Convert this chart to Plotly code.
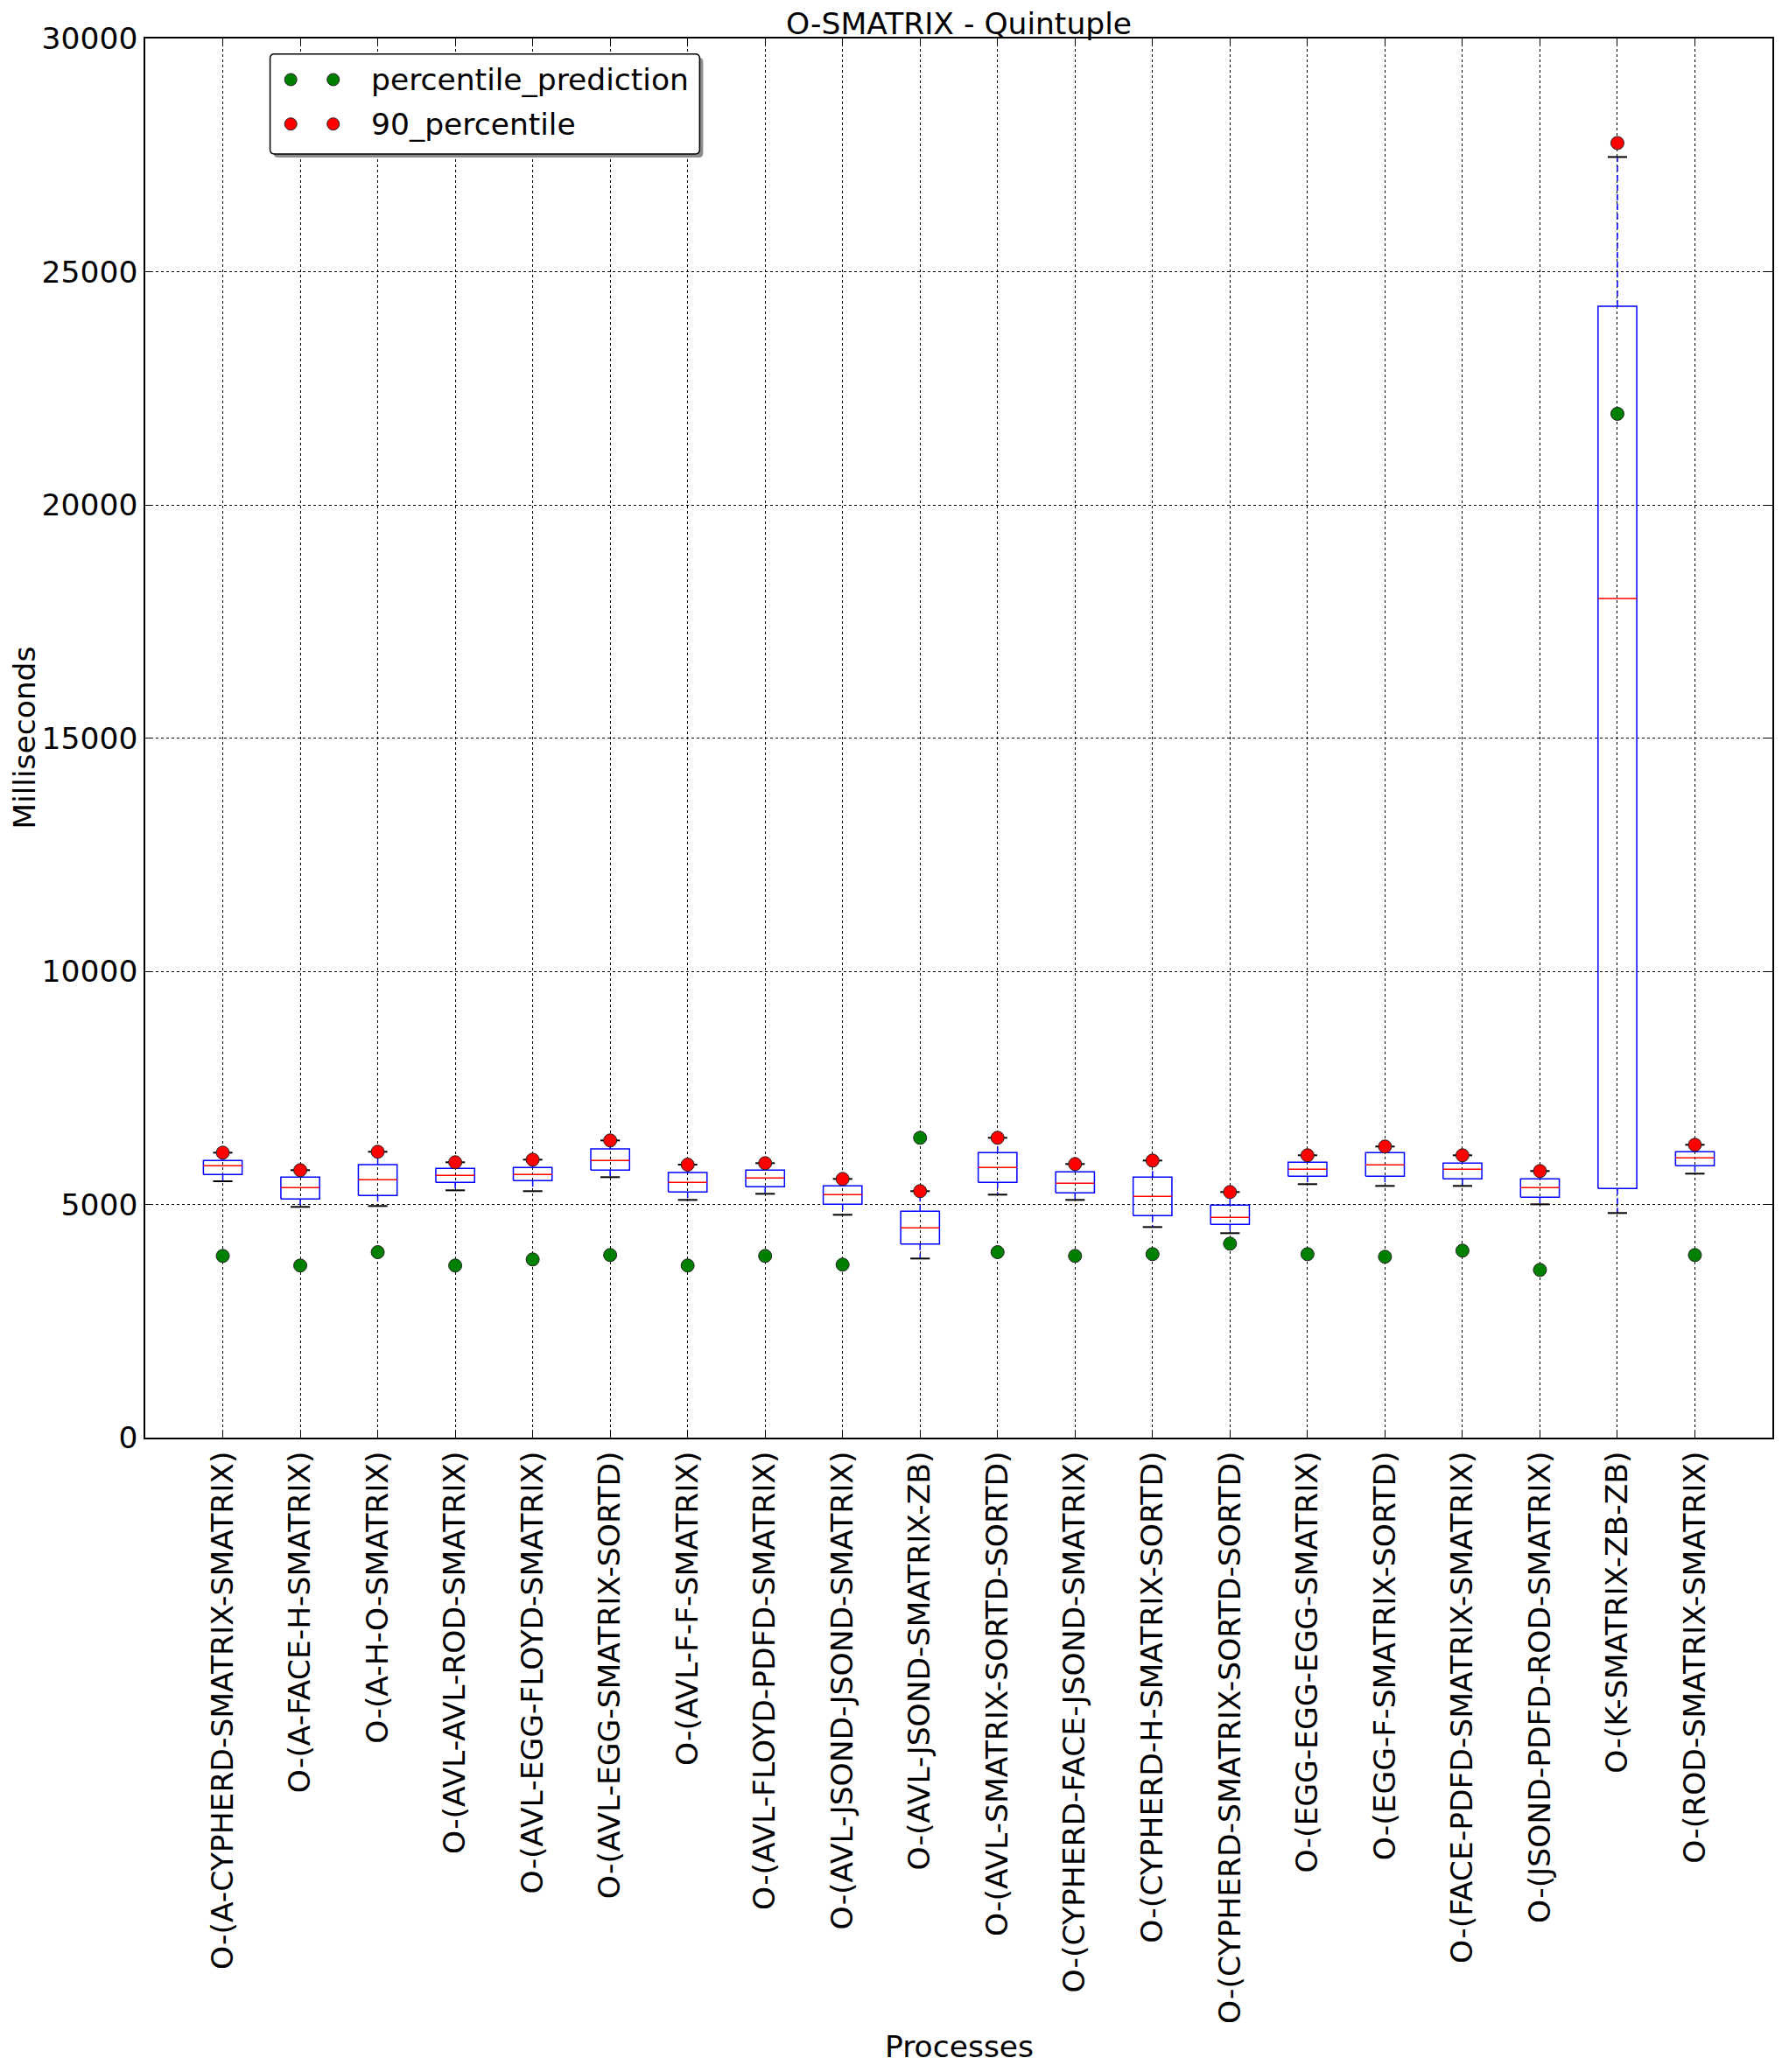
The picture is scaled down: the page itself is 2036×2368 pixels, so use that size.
import plotly.graph_objects as go


processes = [
    "O-(A-CYPHERD-SMATRIX-SMATRIX)",
    "O-(A-FACE-H-SMATRIX)",
    "O-(A-H-O-SMATRIX)",
    "O-(AVL-AVL-ROD-SMATRIX)",
    "O-(AVL-EGG-FLOYD-SMATRIX)",
    "O-(AVL-EGG-SMATRIX-SORTD)",
    "O-(AVL-F-F-SMATRIX)",
    "O-(AVL-FLOYD-PDFD-SMATRIX)",
    "O-(AVL-JSOND-JSOND-SMATRIX)",
    "O-(AVL-JSOND-SMATRIX-ZB)",
    "O-(AVL-SMATRIX-SORTD-SORTD)",
    "O-(CYPHERD-FACE-JSOND-SMATRIX)",
    "O-(CYPHERD-H-SMATRIX-SORTD)",
    "O-(CYPHERD-SMATRIX-SORTD-SORTD)",
    "O-(EGG-EGG-EGG-SMATRIX)",
    "O-(EGG-F-SMATRIX-SORTD)",
    "O-(FACE-PDFD-SMATRIX-SMATRIX)",
    "O-(JSOND-PDFD-ROD-SMATRIX)",
    "O-(K-SMATRIX-ZB-ZB)",
    "O-(ROD-SMATRIX-SMATRIX)",
]

whisker_low = [5497, 4947, 4966, 5303, 5285, 5585, 5097, 5228, 4778, 3840,
               5210, 5097, 4515, 4384, 5435, 5397, 5397, 5003, 4816, 5660]
q1 = [5641, 5116, 5191, 5472, 5510, 5735, 5266, 5378, 5003, 4152,
      5472, 5247, 4759, 4572, 5604, 5604, 5547, 5153, 5341, 5829]
median = [5829, 5360, 5528, 5622, 5641, 5941, 5472, 5566, 5210, 4497,
          5791, 5453, 5172, 4722, 5754, 5847, 5754, 5360, 17991, 5997]
q3 = [5941, 5585, 5853, 5772, 5791, 6191, 5684, 5735, 5397, 4853,
      6110, 5697, 5585, 4984, 5904, 6110, 5885, 5547, 24257, 6129]
whisker_high = [6110, 5735, 6129, 5904, 5960, 6373, 5853, 5885, 5547, 5285,
                6429, 5866, 5941, 5266, 6054, 6242, 6054, 5716, 27459, 6279]

percentile_90 = [6110, 5735, 6129, 5904, 5960, 6373, 5853, 5885, 5547, 5285,
                 6429, 5866, 5941, 5266, 6054, 6242, 6054, 5716, 27759, 6279]
percentile_prediction = [3896, 3690, 3977, 3690, 3821, 3915, 3690, 3896, 3709, 6429,
                         3977, 3896, 3934, 4159, 3934, 3878, 4009, 3596, 21953, 3915]

FONT = "DejaVu Sans"
FS = 34.5

positions = list(range(1, len(processes) + 1))

box_x, box_y = [], []
med_x, med_y = [], []
wh_x, wh_y = [], []
cap_x, cap_y = [], []
for p, lo, a, m, b, hi in zip(positions, whisker_low, q1, median, q3, whisker_high):
    box_x += [p - 0.25, p + 0.25, p + 0.25, p - 0.25, p - 0.25, None]
    box_y += [a, a, b, b, a, None]
    med_x += [p - 0.25, p + 0.25, None]
    med_y += [m, m, None]
    wh_x += [p, p, None, p, p, None]
    wh_y += [a, lo, None, b, hi, None]
    cap_x += [p - 0.125, p + 0.125, None, p - 0.125, p + 0.125, None]
    cap_y += [lo, lo, None, hi, hi, None]

fig = go.Figure()
fig.add_trace(go.Scatter(x=wh_x, y=wh_y, mode="lines",
                         line=dict(color="blue", width=1.5, dash="7px,4px"), hoverinfo="skip"))
fig.add_trace(go.Scatter(x=box_x, y=box_y, mode="lines",
                         line=dict(color="blue", width=1.5), hoverinfo="skip"))
fig.add_trace(go.Scatter(x=med_x, y=med_y, mode="lines",
                         line=dict(color="red", width=1.5), hoverinfo="skip"))
fig.add_trace(go.Scatter(x=cap_x, y=cap_y, mode="lines",
                         line=dict(color="black", width=2), hoverinfo="skip"))
fig.add_trace(go.Scatter(x=positions, y=percentile_prediction, mode="markers",
                         name="percentile_prediction",
                         marker=dict(color="green", size=15, line=dict(color="#222", width=1))))
fig.add_trace(go.Scatter(x=positions, y=percentile_90, mode="markers",
                         name="90_percentile",
                         marker=dict(color="red", size=15, line=dict(color="#222", width=1))))

axis_common = dict(
    showgrid=True, gridcolor="black", griddash="dot", gridwidth=1,
    showline=True, linecolor="black", linewidth=1.5, mirror="ticks",
    ticks="inside", ticklen=8, tickcolor="black", zeroline=False,
    tickfont=dict(family=FONT, size=FS, color="black"),
)

# the page body adds an 8px offset, so the figure is 8px smaller and margins shifted
fig.update_layout(
    width=2028, height=2360,
    margin=dict(l=158, r=9, t=36, b=725),
    paper_bgcolor="white", plot_bgcolor="white",
    showlegend=False,
    font=dict(family=FONT, size=FS, color="black"),
    xaxis=dict(range=[0, 21], tickmode="array", tickvals=positions, ticktext=processes,
               tickangle=-90, **axis_common),
    yaxis=dict(range=[0, 30000], dtick=5000, tickformat="d", **axis_common),
)

# axis titles and title
fig.add_annotation(text="O-SMATRIX - Quintuple", xref="paper", yref="paper", x=0.5, y=1.0,
                   yanchor="bottom", showarrow=False, yshift=-5, font=dict(size=FS))
fig.add_annotation(text="Processes", xref="paper", yref="paper", x=0.5, y=-0.4353,
                   yanchor="middle", showarrow=False, font=dict(size=FS))
fig.add_annotation(text="Milliseconds", xref="paper", yref="paper", x=-0.0747, y=0.5,
                   xanchor="center", textangle=-90, showarrow=False, font=dict(size=FS))

# legend drawn by hand (two markers per entry, like matplotlib)
lx0, lx1, ly0, ly1 = 0.0767, 0.3407, 0.9174, 0.9889
rx, ry = 0.0027, 0.0031


def rounded(x0, x1, y0, y1):
    return (f"M {x0 + rx},{y0} L {x1 - rx},{y0} Q {x1},{y0} {x1},{y0 + ry} "
            f"L {x1},{y1 - ry} Q {x1},{y1} {x1 - rx},{y1} L {x0 + rx},{y1} "
            f"Q {x0},{y1} {x0},{y1 - ry} L {x0},{y0 + ry} Q {x0},{y0} {x0 + rx},{y0} Z")


sx, sy = 4 / 1861, 4 / 1599
fig.add_shape(type="path", xref="paper", yref="paper",
              path=rounded(lx0 + sx, lx1 + sx, ly0 - sy, ly1 - sy),
              fillcolor="#8c8c8c", line=dict(width=0), layer="above")
fig.add_shape(type="path", xref="paper", yref="paper",
              path=rounded(lx0, lx1, ly0, ly1),
              fillcolor="white", line=dict(color="black", width=1.5), layer="above")

legend_rows = [("percentile_prediction", "green", 0.9706), ("90_percentile", "red", 0.9389)]
for label, color, yrow in legend_rows:
    for xm in (0.0894, 0.1155):
        fig.add_shape(type="circle", xref="paper", yref="paper",
                      xsizemode="pixel", ysizemode="pixel",
                      xanchor=xm, yanchor=yrow, x0=-7, x1=7, y0=-7, y1=7,
                      fillcolor=color, line=dict(color="#222", width=1), layer="above")
    fig.add_annotation(text=label, xref="paper", yref="paper", x=0.1376, y=yrow,
                       xanchor="left", yanchor="middle", showarrow=False,
                       font=dict(size=FS))

fig.write_html("out.html")
